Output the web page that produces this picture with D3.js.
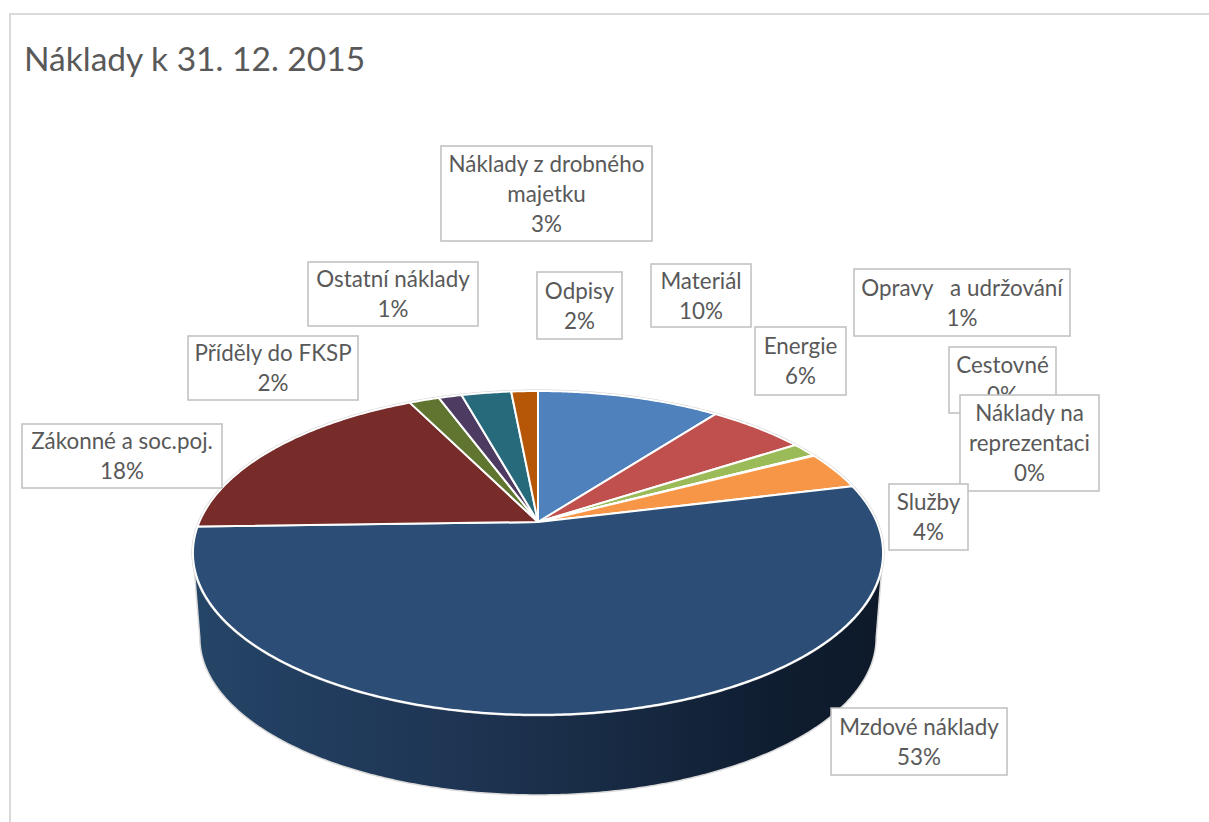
<!DOCTYPE html>
<html><head><meta charset="utf-8">
<script src="https://cdn.jsdelivr.net/npm/d3@7/dist/d3.min.js"></script>
<style>html,body{margin:0;padding:0;background:#fff}svg{display:block}text{font-family:Lato,"Open Sans",sans-serif;fill:#595959;white-space:pre}</style>
</head><body><svg id="c" width="1209" height="822"></svg>
<script>
const chartTitle = "Náklady k 31. 12. 2015";
const categories = ["Materiál","Energie","Opravy   a udržování","Cestovné","Náklady na reprezentaci","Služby","Mzdové náklady","Zákonné a soc.poj.","Příděly do FKSP","Ostatní náklady","Náklady z drobného majetku","Odpisy"];
const values = [10.3,5.5,1.45,0.04,0.03,3.8,53.3,18.1,1.7,1.3,2.8,1.5];
const colors = ["#4f81bd","#c0504d","#9bbb59","#8064a2","#4bacc6","#f79646","#2c4d75","#772c2a","#5f7530","#4d3b62","#276a7c","#b65708"];
const labelLines = [["Materiál"],["Energie"],["Opravy   a udržování"],["Cestovné"],["Náklady na","reprezentaci"],["Služby"],["Mzdové náklady"],["Zákonné a soc.poj."],["Příděly do FKSP"],["Ostatní náklady"],["Náklady z drobného","majetku"],["Odpisy"]];
const labelBoxes = [[651,264,100,63],[755,327,91,68],[854,269,216,67],[949,347,107,66],[960,395,139,96],[889,484,79,66],[831,708,176,67],[22,424,200,64],[188,336,170,64],[308,262,170,64],[441,146,211,95],[537,272,85,67]];
const labelDrawOrder = [10,9,11,0,2,1,8,7,3,4,5,6];

const W=1209,H=822;
const svg=d3.select("#c");
const cx=538, cy=522, a=338.7, b=156, k=0.191;
const proj=t=>{const w=1+k*Math.cos(t);return [cx+a*Math.sin(t)/w, cy-b*Math.cos(t)/w];};
const ellipseCy=553, baseCy=638;
const projBase=t=>{const [x,y]=proj(t);return [cx+(x-cx)*0.98, baseCy+(y-ellipseCy)*0.97];};
const line=d3.line();
const arcPts=(t0,t1,f)=>{const n=Math.max(2,Math.ceil(Math.abs(t1-t0)/0.01));return d3.range(n+1).map(i=>f(t0+(t1-t0)*i/n));};

const defs=svg.append("defs");
const g=defs.append("linearGradient").attr("id","side").attr("gradientUnits","userSpaceOnUse").attr("x1",195).attr("x2",880).attr("y1",0).attr("y2",0);
[[0,"#254567"],[0.12,"#223f61"],[0.35,"#1f3655"],[0.6,"#182b44"],[0.85,"#0f1d30"],[1,"#0e1a2a"]].forEach(s=>g.append("stop").attr("offset",s[0]).attr("stop-color",s[1]));

svg.append("path").attr("d","M10,822V14H1209").attr("fill","none").attr("stroke","#d9d9d9").attr("stroke-width",2);
svg.append("text").attr("x",24).attr("y",71).attr("font-size",33.5).text(chartTitle);

const pie=d3.pie().sort(null).value(d=>d)(values);
const tL=Math.acos(-k), tR=2*Math.PI-tL;
const sidePts=arcPts(tL,tR,proj).concat(arcPts(tR,tL,projBase));
svg.append("path").attr("d",line(sidePts)+"Z").attr("fill","url(#side)").attr("stroke","#d9d9d9").attr("stroke-width",1.5);
svg.append("path").attr("d",line(arcPts(0,2*Math.PI,proj))+"Z").attr("fill","none").attr("stroke","#cfcfcf").attr("stroke-width",3);
svg.append("g").selectAll("path").data(pie).join("path")
 .attr("d",d=>line([[cx,cy],...arcPts(d.startAngle,d.endAngle,proj)])+"Z")
 .attr("fill",(d,i)=>colors[i]).attr("stroke","#fff").attr("stroke-width",2).attr("stroke-linejoin","round");

const pct=d3.format(".0f");
const lg=svg.append("g");
labelDrawOrder.forEach(i=>{
 const [x,y,w,h]=labelBoxes[i];
 lg.append("rect").attr("x",x).attr("y",y).attr("width",w).attr("height",h).attr("fill","#fff").attr("stroke","#bfbfbf").attr("stroke-width",1.5);
 const lines=labelLines[i].concat([pct(values[i])+"%"]);
 const lh=30, top=y+h/2-lh*lines.length/2;
 lines.forEach((s,j)=>lg.append("text").attr("x",x+w/2).attr("y",top+lh*j+23).attr("text-anchor","middle").attr("font-size",22.4).text(s));
});
</script></body></html>
